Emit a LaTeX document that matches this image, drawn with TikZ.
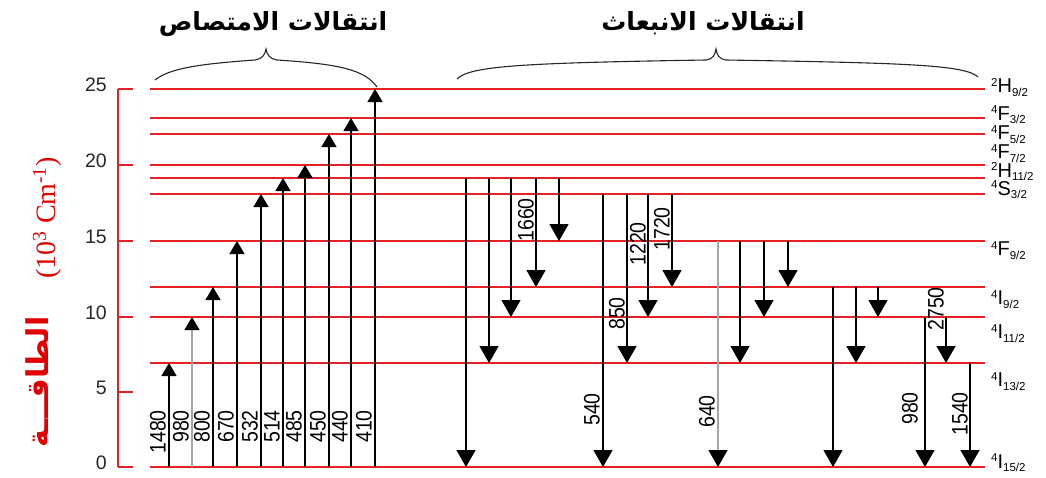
\documentclass[tikz,border=0pt]{standalone}
\usepackage{fontspec}
\usepackage{graphicx}
\setmainfont{Liberation Sans}
\newfontfamily\serifx{Liberation Serif}
\newfontfamily\arabicfont[Script=Arabic]{DejaVu Sans}
\usetikzlibrary{arrows.meta}
\TeXXeTstate=1
\definecolor{lvred}{RGB}{228,32,36}
\definecolor{axred}{RGB}{225,0,0}
\definecolor{arrgray}{RGB}{165,165,165}
\newcommand\lvlab[3]{\raisebox{6.5pt}{\fontsize{11.5}{11.5}\selectfont #1}#2\raisebox{-3.5pt}{\fontsize{11.5}{11.5}\selectfont #3}}
\newcommand\tallnum[1]{\scalebox{1}[1.15]{#1}}
\begin{document}
\begin{tikzpicture}[x=1pt,y=-1pt,
  level/.style={draw=lvred, line width=1.4pt},
  absarr/.style={line width=1.3pt, -{Triangle[width=15pt,length=13pt,color=black]}},
  emarr/.style={line width=1.3pt, -{Triangle[width=19pt,length=17pt,color=black]}},
  numlab/.style={rotate=90, inner sep=0pt, anchor=south east, font=\fontsize{19.5}{20}\selectfont},
  ticklab/.style={anchor=base east, inner sep=0pt, text=black!85, font=\fontsize{19.5}{20}\selectfont},
  statelab/.style={anchor=base west, inner sep=0pt, font=\fontsize{20}{20}\selectfont},
  bracepath/.style={line width=1.1pt, draw=black!85},
  titlelab/.style={inner sep=0pt, anchor=base, font=\arabicfont\bfseries\fontsize{25}{25}\selectfont}
]
\useasboundingbox (0,0) rectangle (1046,477);

% energy levels
\foreach \n/\y in {0/467,1/363,2/317,3/287,4/241,5/194,6/178,7/165,8/134,9/118,10/89} {
  \coordinate (L\n) at (150,\y);
  \coordinate (R\n) at (985,\y);
  \draw[level] (L\n) -- (R\n);
}

% axis
\coordinate (ax0) at (118,467);
\coordinate (ax1) at (118,89);
\draw[level] (ax0) -- (ax1);
\foreach \v/\y in {0/467,5/392,10/317,15/241,20/165,25/89} {
  \coordinate (tk\v a) at (118,\y);
  \coordinate (tk\v b) at (133,\y);
  \draw[level] (tk\v a) -- (tk\v b);
  \node[ticklab] (tl\v) at (107,\y+2) {\v};
}

% axis title
\node[rotate=90, anchor=base, inner sep=0pt, text=axred, font=\serifx\fontsize{28}{28}\selectfont] (axt1) at (55,218) {(10\textsuperscript{3} Cm\textsuperscript{-1})};
\node[rotate=90, anchor=base, inner sep=0pt, text=axred, font=\arabicfont\bfseries\fontsize{30}{30}\selectfont] (axt2) at (48,382) {\beginR الطاقـــة\endR};

% state labels
\node[statelab] (s10) at (991,92.5) {\lvlab{2}{H}{9/2}};
\node[statelab] (s9) at (991,120) {\lvlab{4}{F}{3/2}};
\node[statelab] (s8) at (991,139.5) {\lvlab{4}{F}{5/2}};
\node[statelab] (s7) at (991,158.5) {\lvlab{4}{F}{7/2}};
\node[statelab] (s6) at (991,177) {\lvlab{2}{H}{11/2}};
\node[statelab] (s5) at (991,195) {\lvlab{4}{S}{3/2}};
\node[statelab] (s4) at (991,255.5) {\lvlab{4}{F}{9/2}};
\node[statelab] (s3) at (991,304.5) {\lvlab{4}{I}{9/2}};
\node[statelab] (s2) at (991,338.5) {\lvlab{4}{I}{11/2}};
\node[statelab] (s1) at (991,386.5) {\lvlab{4}{I}{13/2}};
\node[statelab] (s0) at (991,468) {\lvlab{4}{I}{15/2}};

% absorption transitions
\foreach \x/\t/\lab/\c in {169/1/1480/black,192/2/980/arrgray,213/3/800/black,237/4/670/black,261/5/532/black,283/6/514/black,305/7/485/black,329/8/450/black,351/9/440/black,375/10/410/black} {
  \coordinate (ab\lab) at (\x,0 |- L0);
  \coordinate (at\lab) at (\x,0 |- L\t);
  \draw[absarr, draw=\c] (ab\lab) -- (at\lab);
  \node[numlab] (al\lab) at (\x-3,410) {\tallnum{\lab}};
}

% emission transitions
\foreach \x/\f/\t/\c in {466/6/0/black,489/6/1/black,511/6/2/black,536/6/3/black,559/6/4/black,603/5/0/black,627/5/1/black,648/5/2/black,672/5/3/black,718/4/0/arrgray,740/4/1/black,764/4/2/black,788/4/3/black,833/3/0/black,856/3/1/black,878/3/2/black,925/2/0/black,946/2/1/black,970/1/0/black} {
  \coordinate (eb\x) at (\x,0 |- L\f);
  \coordinate (et\x) at (\x,0 |- L\t);
  \draw[emarr, draw=\c] (eb\x) -- (et\x);
}
\node[numlab] (el1660) at (534,198) {\tallnum{1660}};
\node[numlab] (el540) at (600,393) {\tallnum{540}};
\node[numlab] (el850) at (625,297) {\tallnum{850}};
\node[numlab] (el1220) at (646,222) {\tallnum{1220}};
\node[numlab] (el1720) at (670,207) {\tallnum{1720}};
\node[numlab] (el640) at (715,395) {\tallnum{640}};
\node[numlab] (el980) at (918,392) {\tallnum{980}};
\node[numlab] (el2750) at (944,287) {\tallnum{2750}};
\node[numlab] (el1540) at (968,392) {\tallnum{1540}};

% braces and titles
\draw[bracepath] (155,80) .. controls (170,68) and (200,64) .. (255,60) .. controls (262,59) and (265,55) .. (266,49) .. controls (267,55) and (270,59) .. (277,60) .. controls (340,64) and (365,70) .. (377,87);
\draw[bracepath] (457,79) .. controls (470,66) and (520,63) .. (706,60) .. controls (713,59) and (715,55) .. (716,49) .. controls (717,55) and (719,59) .. (726,60) .. controls (910,63) and (965,65) .. (978,77);
\node[titlelab] (ttl1) at (273,30) {\beginR انتقالات الامتصاص\endR};
\node[titlelab] (ttl2) at (703,30) {\beginR انتقالات الانبعاث\endR};
\end{tikzpicture}
\end{document}
